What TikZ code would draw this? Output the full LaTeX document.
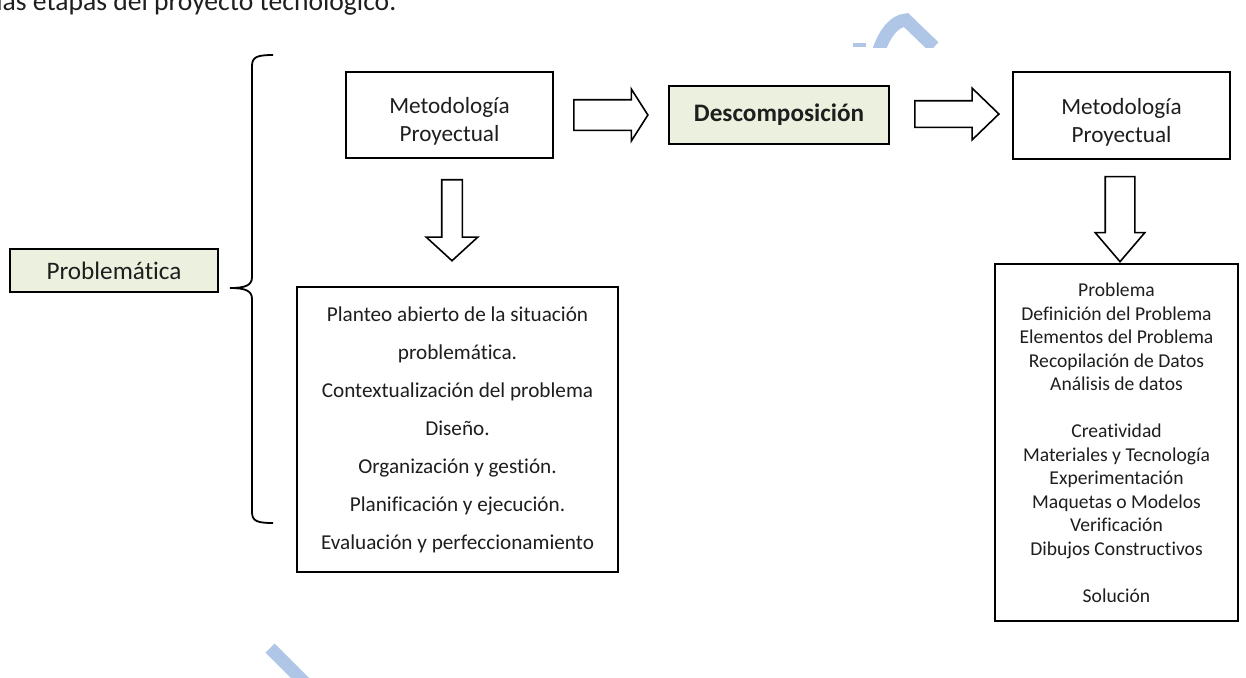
\documentclass[tikz,border=0pt]{standalone}
\usepackage{fontspec}
\setmainfont{Carlito}[Ligatures={NoCommon}]
\usetikzlibrary{positioning,shapes.arrows,calc}
\definecolor{BoxFill}{RGB}{235,241,222}
\definecolor{MarkBlue}{RGB}{176,198,230}
\definecolor{TextGray}{RGB}{30,30,30}
\tikzset{
  % Plain box
  pbox/.style={
    draw=black,
    line width=0.8pt,
    fill=white,
    align=center,
    inner sep=0pt,
    text=TextGray,
    font=\fontsize{11.6}{14}\selectfont
  },
  % Green title box
  gbox/.style={pbox, fill=BoxFill},
  % List box
  listbox/.style={pbox, font=\fontsize{10.6}{19}\selectfont},
  slistbox/.style={pbox, font=\fontsize{9.8}{11.75}\selectfont},
  % Block arrow
  barrow/.style={
    single arrow,
    draw=black,
    line width=0.8pt,
    fill=white,
    single arrow head indent=0pt
  },
  % Brace
  brace/.style={draw=black, line width=0.9pt},
  % Watermark stroke
  wmark/.style={draw=MarkBlue, line width=6.5pt}
}
\newcommand{\topstrut}{\rule{0pt}{14.5pt}}
\begin{document}
\begin{tikzpicture}[x=0.5pt, y=-0.5pt]
  \useasboundingbox (0,0) rectangle (1246,677);
  \clip (0,0) rectangle (1246,677);

  % Watermark
  \begin{scope}
    \clip (840,0) rectangle (950,47);
    \draw[wmark] (879,50) .. controls (885,33) and (894,21) .. (906,20) -- (934,47);
  \end{scope}
  \fill[MarkBlue] (853,43) rectangle (866,47);
  \draw[wmark] (270,648) -- (312,690);

  % Caption line
  \node[anchor=base west, inner sep=0pt, text=TextGray, font=\fontsize{13.8}{16}\selectfont]
    (caption) at (-4,10) {las etapas del proyecto tecnológico.};

  % Boxes
  \node[gbox, minimum width=104pt, minimum height=21.5pt, font=\fontsize{12.6}{14}\selectfont] (prob) at (114,270.5) {Problemática};
  \node[pbox, minimum width=103.5pt, minimum height=43pt] (met1) at (449.5,115) {\topstrut Metodología\\Proyectual};
  \node[gbox, minimum width=110pt, minimum height=29pt, font=\fontsize{12.6}{14}\selectfont\bfseries] (desc) at (779,115) {Descomposición};
  \node[pbox, minimum width=108.5pt, minimum height=43.5pt] (met2) at (1121.5,115.5) {\topstrut Metodología\\Proyectual};

  \node[listbox, minimum width=160.5pt, minimum height=142.5pt] (list1) at (457.5,429.5) {%
    Planteo abierto de la situación\\
    problemática.\\
    Contextualización del problema\\
    Diseño.\\
    Organización y gestión.\\
    Planificación y ejecución.\\
    Evaluación y perfeccionamiento};

  \node[slistbox, minimum width=121.5pt, minimum height=178.5pt] (list2) at (1116.5,442.5) {%
    Problema\\
    Definición del Problema\\
    Elementos del Problema\\
    Recopilación de Datos\\
    Análisis de datos\\[11.75pt]
    Creatividad\\
    Materiales y Tecnología\\
    Experimentación\\
    Maquetas o Modelos\\
    Verificación\\
    Dibujos Constructivos\\[11.75pt]
    Solución};

  % Block arrows
  \node[barrow, inner sep=7.25pt, minimum height=37pt, single arrow head extend=5.25pt,
    single arrow tip angle=115] (ar1) at (606,115) {};
  \node[barrow, inner sep=6.25pt, minimum height=42pt, single arrow head extend=6.25pt,
    single arrow tip angle=88] (ar2) at (950,114) {};
  \node[barrow, inner sep=4.75pt, minimum height=40.5pt, single arrow head extend=7.75pt,
    single arrow tip angle=95, shape border rotate=270] (ad1) at (452,215.5) {};
  \node[barrow, inner sep=7pt, minimum height=42.5pt, single arrow head extend=5pt,
    single arrow tip angle=81, shape border rotate=270] (ad2) at (1120,210.5) {};

  % Brace
  \coordinate (btop) at (273,55);
  \coordinate (bbot) at (273,523);
  \coordinate (btip) at (230,288);
  \draw[brace] (btop) .. controls (257,55) and (252,57) .. (252,66) -- (252,277)
    .. controls (252,285) and (246,288) .. (btip)
    .. controls (246,288) and (252,291) .. (252,299) -- (252,512)
    .. controls (252,521) and (257,523) .. (bbot);
\end{tikzpicture}
\end{document}
